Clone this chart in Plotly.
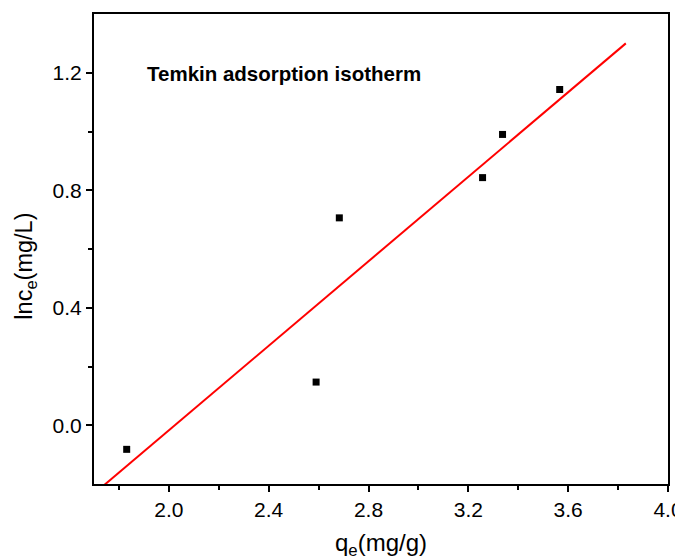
import plotly.graph_objects as go

# Data
qe = [1.831, 2.590, 2.683, 3.257, 3.337, 3.566]
lnce = [-0.082, 0.147, 0.706, 0.843, 0.990, 1.143]

# Fitted line endpoints (as drawn in the reference)
fit_x = [1.739, 3.831]
fit_y = [-0.205, 1.300]

x_ticks = [2.0, 2.4, 2.8, 3.2, 3.6, 4.0]
y_ticks = [0.0, 0.4, 0.8, 1.2]

font_family = "Liberation Sans, Arial, sans-serif"

fig = go.Figure()
fig.add_trace(go.Scatter(
    x=fit_x, y=fit_y, mode="lines",
    line=dict(color="#ff0000", width=2),
    showlegend=False, hoverinfo="skip"))
fig.add_trace(go.Scatter(
    x=qe, y=lnce, mode="markers",
    marker=dict(symbol="square", size=7, color="black"),
    showlegend=False))

fig.add_annotation(
    x=1.905, y=1.198, xref="x", yref="y",
    text="<b>Temkin adsorption isotherm</b>",
    showarrow=False, xanchor="left", yanchor="middle",
    font=dict(family=font_family, size=20.5, color="black"))

# y-axis title (placed slightly below centre, as in the reference)
fig.add_annotation(
    x=0, xref="paper", xshift=-68, y=0.54, yref="y",
    text="lnc<sub>e</sub>(mg/L)", textangle=-90,
    showarrow=False, xanchor="center", yanchor="middle",
    font=dict(family=font_family, size=23.5, color="black"))

axis_common = dict(
    showgrid=False, zeroline=False, automargin=False,
    showline=True, linecolor="black", linewidth=2,
    mirror=True,
    ticks="outside", ticklen=6, tickwidth=1.5, tickcolor="black",
    ticklabeloverflow="allow",
    tickfont=dict(family=font_family, size=21, color="black"),
)

fig.update_xaxes(
    range=[1.7, 4.0], tickvals=x_ticks,
    ticktext=[f"{v:.1f}" for v in x_ticks],
    minor=dict(ticks="outside", ticklen=4, tickwidth=1.5, tickcolor="black",
               tickvals=[1.8, 2.2, 2.6, 3.0, 3.4, 3.8]),
    title=dict(text="q<sub>e</sub>(mg/g)", standoff=21,
               font=dict(family=font_family, size=24, color="black")),
    **axis_common)
fig.update_yaxes(
    range=[-0.2, 1.4], tickvals=y_ticks,
    ticktext=[f"{v:.1f}" for v in y_ticks],
    minor=dict(ticks="outside", ticklen=4, tickwidth=1.5, tickcolor="black",
               tickvals=[0.2, 0.6, 1.0]),
    **axis_common)

# The page body adds an 8px margin; size the figure so the plot area
# lands where it does in the reference.
fig.update_layout(
    width=675, height=552,
    margin=dict(l=86, r=15, t=6, b=76),
    paper_bgcolor="white", plot_bgcolor="white",
    font=dict(family=font_family, color="black"),
)

fig.write_html("out.html")
